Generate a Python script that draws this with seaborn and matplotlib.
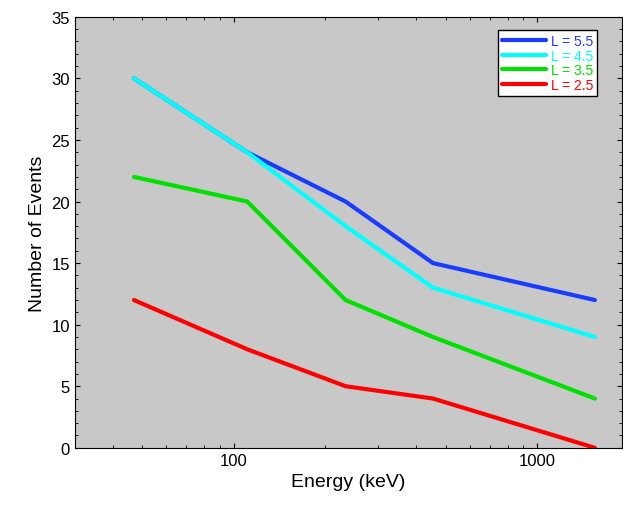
import matplotlib
matplotlib.use("Agg")
import matplotlib.pyplot as plt
import seaborn as sns
import pandas as pd
from matplotlib.ticker import MultipleLocator, FixedLocator, FixedFormatter

energy = [47, 111, 234, 454, 1550]
l55 = [30, 24, 20, 15, 12]
l45 = [30, 24, 18, 13, 9]
l35 = [22, 20, 12, 9, 4]
l25 = [12, 8, 5, 4, 0]
labels = ["L = 5.5", "L = 4.5", "L = 3.5", "L = 2.5"]
colors = ["#1a3cff", "#00ffff", "#00e000", "#ff0000"]

sns.set_style("ticks", {"text.color": "black", "axes.labelcolor": "black",
                        "xtick.color": "black", "ytick.color": "black",
                        "axes.edgecolor": "black"})
plt.rcParams['font.family'] = ['Liberation Sans', 'DejaVu Sans']

df = pd.concat([pd.DataFrame({"Energy": energy, "Events": v, "L": lab})
                for v, lab in zip([l55, l45, l35, l25], labels)])

fig, ax = plt.subplots(figsize=(6.23, 5.10), dpi=100)
ax.set_facecolor("#c8c8c8")
sns.lineplot(data=df, x="Energy", y="Events", hue="L", palette=colors,
             hue_order=labels, linewidth=3, ax=ax)
ax.set_xscale("log")
ax.set_xlim(30, 1900)
ax.set_ylim(0, 35)
ax.xaxis.set_major_locator(FixedLocator([100, 1000]))
ax.xaxis.set_major_formatter(FixedFormatter(["100", "1000"]))
ax.yaxis.set_major_locator(MultipleLocator(5))
ax.yaxis.set_minor_locator(MultipleLocator(1))
ax.tick_params(which="both", direction="in", top=True, right=True, labelsize=12)
ax.set_xlabel("Energy (keV)", fontsize=14)
ax.set_ylabel("Number of Events", fontsize=14)

leg = ax.legend(loc="upper right", bbox_to_anchor=(0.955, 0.97), fontsize=10,
                frameon=True, fancybox=False, handlelength=3.2, borderpad=0.3,
                labelspacing=0.05, handletextpad=0.3, borderaxespad=0)
leg.get_frame().set_edgecolor("black")
leg.get_frame().set_facecolor("white")
leg.get_frame().set_alpha(1)
for t, c in zip(leg.get_texts(), colors):
    t.set_color(c)

fig.subplots_adjust(left=0.12, right=0.998, top=0.965, bottom=0.12)
fig.savefig("out.png", dpi=100)
